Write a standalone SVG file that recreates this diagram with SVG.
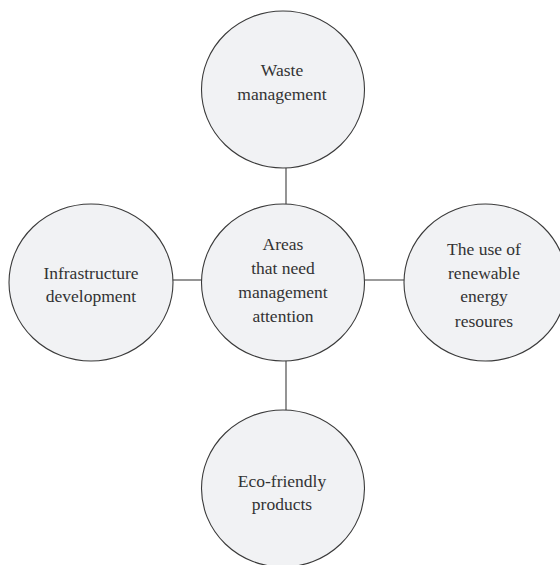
<svg xmlns="http://www.w3.org/2000/svg" width="560" height="565" viewBox="0 0 560 565">
<style>
.node ellipse{fill:#f1f2f4;stroke:#3a3a3a;stroke-width:1.1}
.conn line{stroke:#7a7a7a;stroke-width:1.6}
.lbl{font-size:17.5px;fill:#333;text-anchor:middle}
</style>
<rect width="560" height="565" fill="#ffffff"/>
<g id="connectors" class="conn">
<line x1="286" y1="168" x2="286" y2="204"/>
<line x1="286" y1="361" x2="286" y2="410"/>
<line x1="172" y1="280" x2="202" y2="280"/>
<line x1="364" y1="280" x2="404" y2="280"/>
</g>
<g font-family="'Liberation Serif', 'DejaVu Serif', serif">
<g id="center" class="node">
<ellipse cx="283" cy="282.5" rx="81.5" ry="78.5"/>
<text class="lbl" x="283" y="250">Areas</text>
<text class="lbl" x="283" y="273.5">that need</text>
<text class="lbl" x="283" y="298">management</text>
<text class="lbl" x="283" y="321.5">attention</text>
</g>
<g id="waste" class="node">
<ellipse cx="283" cy="89.5" rx="81.5" ry="78.5"/>
<text class="lbl" x="282" y="76">Waste</text>
<text class="lbl" x="282" y="100">management</text>
</g>
<g id="infrastructure" class="node">
<ellipse cx="91" cy="282.5" rx="82" ry="78.5"/>
<text class="lbl" x="91" y="279">Infrastructure</text>
<text class="lbl" x="91" y="302">development</text>
</g>
<g id="renewable" class="node">
<ellipse cx="485.5" cy="282.5" rx="81.5" ry="78.5"/>
<text class="lbl" x="484" y="255">The use of</text>
<text class="lbl" x="484" y="278.5">renewable</text>
<text class="lbl" x="484" y="302">energy</text>
<text class="lbl" x="484" y="326.5">resoures</text>
</g>
<g id="eco" class="node">
<ellipse cx="283" cy="488.5" rx="81.5" ry="78.5"/>
<text class="lbl" x="282" y="486.5">Eco-friendly</text>
<text class="lbl" x="282" y="509.5">products</text>
</g>
</g>
</svg>
